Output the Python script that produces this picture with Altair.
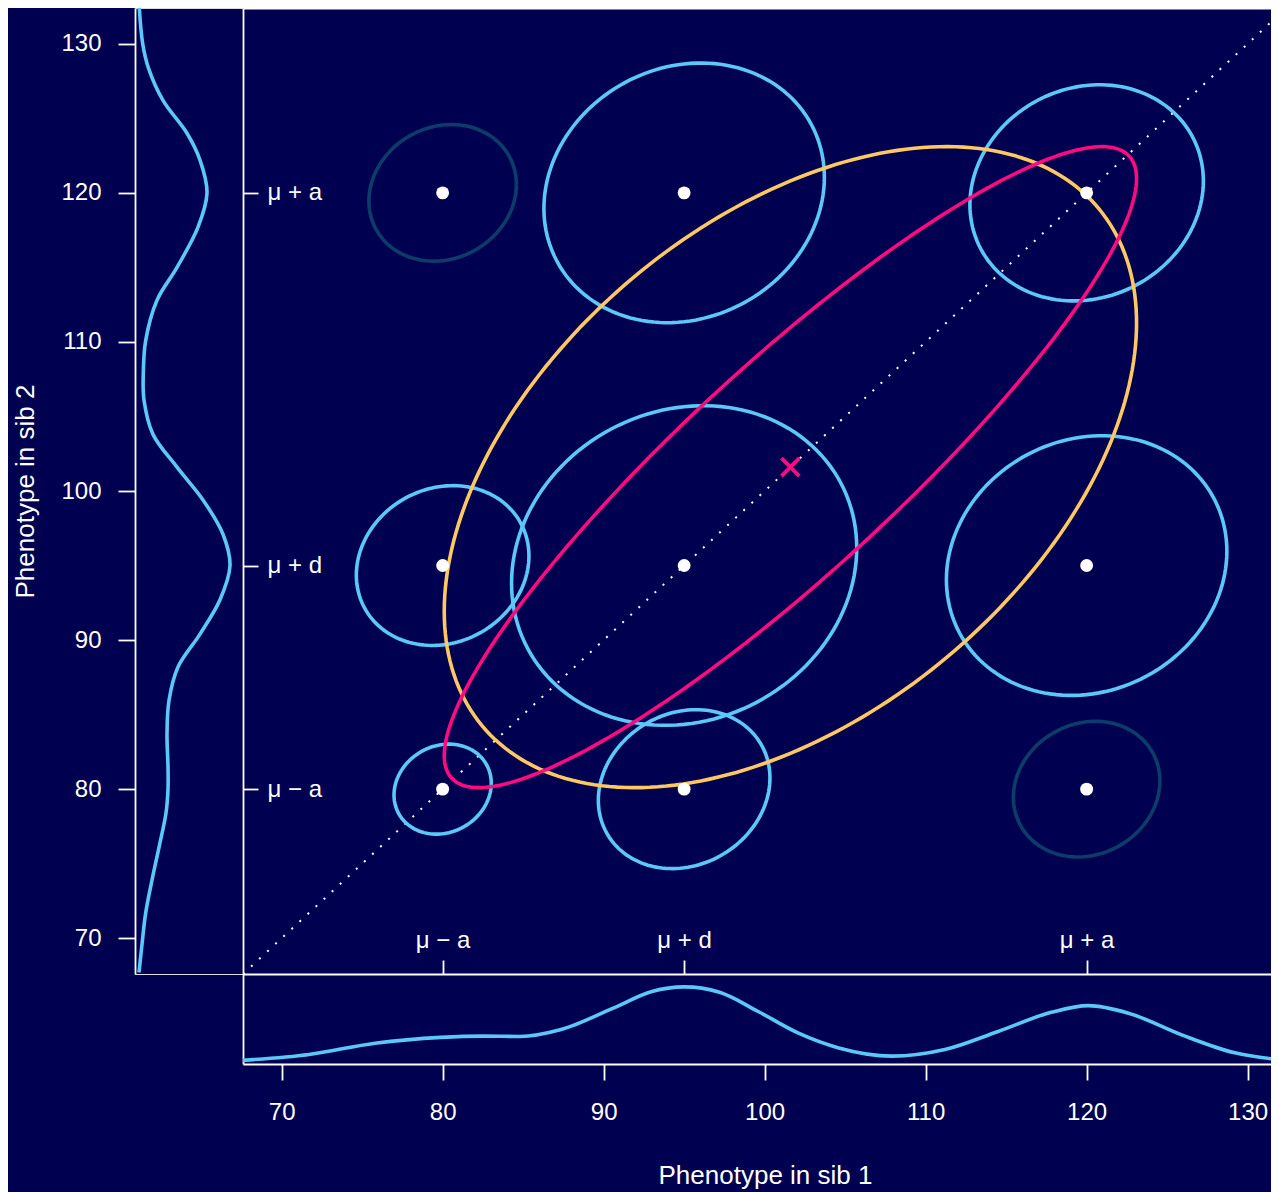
import numpy as np
import pandas as pd
import altair as alt

# ---------------- data ----------------
geno_values = [80, 95, 120]
geno_labels = ["μ − a", "μ + d", "μ + a"]
axis_ticks = [70, 80, 90, 100, 110, 120, 130]

# genotype-pair clouds: sib1 mean, sib2 mean, half-size, correlation, tone
pair_sib1 = [80, 80, 80, 95, 95, 95, 120, 120, 120]
pair_sib2 = [80, 95, 120, 80, 95, 120, 80, 95, 120]
pair_halfsize = [3.02, 5.36, 4.58, 5.33, 10.72, 8.71, 4.55, 8.71, 7.25]
pair_rho = [0.13, 0.12, 0.12, 0.14, 0.11, 0.12, 0.12, 0.11, 0.11]
pair_tone = ["light", "light", "dark", "light", "light", "light", "dark", "light", "light"]

# overall sib-pair distribution
overall_mean = [101.6, 101.6]
overall_halfsize = 21.5
overall_rho = [0.45, 0.90]
overall_tone = ["orange", "magenta"]

# marginal density of sib 1 (bottom panel), relative units
sib1_grid = [67.6, 71.7, 75.8, 79.9, 82.5, 84.8, 87.3, 90.6, 93.0, 95.0, 97.2, 99.6,
             102.1, 104.6, 107.9, 111.2, 114.5, 117.8, 120.1, 122.6, 125.9, 129.2, 132.0]
sib1_density = [0.004, 0.075, 0.21, 0.28, 0.295, 0.29, 0.37, 0.63, 0.83, 0.885, 0.82, 0.59,
                0.33, 0.153, 0.055, 0.134, 0.35, 0.58, 0.66, 0.57, 0.31, 0.094, 0.01]

# marginal density of sib 2 (left panel), relative units
sib2_grid = [67.7, 69.4, 71.7, 73.9, 76.1, 78.4, 80.0, 81.5, 83.7, 85.95, 88.2, 90.4, 92.7,
             95.0, 97.1, 99.4, 101.6, 103.8, 106.1, 107.9, 110.1, 112.8, 115.0, 117.7, 120.0,
             122.2, 124.0, 126.2, 128.4, 130.0, 132.4]
sib2_density = [0.0, 0.027, 0.067, 0.13, 0.20, 0.27, 0.29, 0.29, 0.28, 0.30, 0.39, 0.61, 0.81,
                0.91, 0.84, 0.64, 0.38, 0.14, 0.05, 0.043, 0.067, 0.18, 0.38, 0.59, 0.68,
                0.61, 0.48, 0.24, 0.093, 0.037, 0.003]

diag_ends = [67.6, 132.4]

# ---------------- style ----------------
BG = "#000050"
LIGHT = "#5BC8F7"
DARK = "#0C3D6A"
ORANGE = "#FFC862"
MAGENTA = "#FF0A80"
WHITE = "#FFFFFF"
FONT = "Liberation Sans"
LW = 1.8
CW = 3.6

MAIN_W, MAIN_H = 1028, 966
LEFT_W, BOTTOM_H = 108, 90
X_DOMAIN = [67.6, 67.6 + MAIN_W / 16.1]
Y_DOMAIN = [67.6, 132.4]
D_DOMAIN = [-0.04, 1.04]


def contour(cx, cy, h, rho, n=145):
    t = np.linspace(0, 2 * np.pi, n)
    xs = cx + h * np.cos(t)
    ys = cy + h * (rho * np.cos(t) + np.sqrt(1 - rho ** 2) * np.sin(t))
    return xs, ys


rows = []
for i in range(len(pair_sib1)):
    xs, ys = contour(pair_sib1[i], pair_sib2[i], pair_halfsize[i], pair_rho[i])
    for k, (a, b) in enumerate(zip(xs, ys)):
        rows.append({"id": f"p{i}", "step": k, "x": a, "y": b, "tone": pair_tone[i]})
pair_df = pd.DataFrame(rows)

big = []
for j in range(len(overall_rho)):
    xs, ys = contour(overall_mean[0], overall_mean[1], overall_halfsize, overall_rho[j], n=241)
    for k, (a, b) in enumerate(zip(xs, ys)):
        big.append({"id": f"o{j}", "step": k, "x": a, "y": b, "tone": overall_tone[j]})
big_df = pd.DataFrame(big)

points_df = pd.DataFrame({"x": pair_sib1, "y": pair_sib2})
cross_df = pd.DataFrame({"x": [overall_mean[0]], "y": [overall_mean[1]]})
diag_df = pd.DataFrame({"x": diag_ends, "y": diag_ends})
bottom_df = pd.DataFrame({"val": sib1_grid, "dens": sib1_density})
left_df = pd.DataFrame({"val": sib2_grid, "dens": sib2_density})

# ---------------- axes ----------------
label_expr = " : ".join(
    f"datum.value == {v} ? '{l}'" for v, l in zip(geno_values[:-1], geno_labels[:-1])
) + f" : '{geno_labels[-1]}'"

common_axis = dict(
    domainColor=WHITE, domainWidth=LW, tickColor=WHITE, tickWidth=LW,
    labelColor=WHITE, labelFont=FONT, grid=False,
)

mu_x_axis = alt.Axis(orient="top", offset=-MAIN_H, values=geno_values, labelExpr=label_expr,
                     tickSize=14, labelPadding=8, labelFontSize=24, title=None, **common_axis)
mu_y_axis = alt.Axis(orient="right", offset=-MAIN_W, values=geno_values, labelExpr=label_expr,
                     tickSize=15, labelPadding=9, labelFontSize=24, labelAlign="left",
                     title=None, **common_axis)

xs_main = alt.Scale(domain=X_DOMAIN, nice=False, zero=False)
ys_main = alt.Scale(domain=Y_DOMAIN, nice=False, zero=False)


def X(field="x"):
    return alt.X(f"{field}:Q", scale=xs_main, axis=mu_x_axis)


def Y(field="y"):
    return alt.Y(f"{field}:Q", scale=ys_main, axis=mu_y_axis)


tone_scale = alt.Scale(domain=["light", "dark", "orange", "magenta"],
                       range=[LIGHT, DARK, ORANGE, MAGENTA])

diag = alt.Chart(diag_df).mark_line(
    color=WHITE, strokeWidth=2, strokeDash=[2, 9], clip=True
).encode(x=X(), y=Y())

pair_lines = alt.Chart(pair_df).mark_line(strokeWidth=CW, clip=True).encode(
    x=X(), y=Y(), detail="id:N", order="step:Q",
    color=alt.Color("tone:N", scale=tone_scale, legend=None),
)

orange_line = alt.Chart(big_df[big_df["tone"] == "orange"]).mark_line(
    strokeWidth=CW, clip=True).encode(
    x=X(), y=Y(), detail="id:N", order="step:Q",
    color=alt.Color("tone:N", scale=tone_scale, legend=None),
)
magenta_line = alt.Chart(big_df[big_df["tone"] == "magenta"]).mark_line(
    strokeWidth=CW, clip=True).encode(
    x=X(), y=Y(), detail="id:N", order="step:Q",
    color=alt.Color("tone:N", scale=tone_scale, legend=None),
)

pts = alt.Chart(points_df).mark_circle(color=WHITE, opacity=1, size=165).encode(x=X(), y=Y())

cross = alt.Chart(cross_df).mark_point(
    shape="M-1,-1L1,1M-1,1L1,-1", filled=False, color=MAGENTA, strokeWidth=3.8,
    size=320, opacity=1,
).encode(x=X(), y=Y())

inner = alt.layer(diag, pair_lines, orange_line, magenta_line, pts, cross)

border = alt.Chart(cross_df).mark_point(opacity=0).encode(
    x=alt.X("x:Q", scale=xs_main,
            axis=alt.Axis(orient="top", ticks=False, labels=False, domain=True,
                          domainColor=WHITE, domainWidth=LW, grid=False, title=None)),
    y=Y(),
)

main = alt.layer(inner, border).resolve_scale(x="independent").properties(
    width=MAIN_W, height=MAIN_H, view=alt.ViewBackground(strokeOpacity=0)
)

left = alt.Chart(left_df).mark_line(
    color=LIGHT, strokeWidth=CW, interpolate="catmull-rom"
).encode(
    x=alt.X("dens:Q", scale=alt.Scale(domain=D_DOMAIN, nice=False, zero=False), axis=None),
    y=alt.Y("val:Q", scale=ys_main,
            axis=alt.Axis(orient="left", values=axis_ticks, tickSize=17, labelPadding=17,
                          labelFontSize=24, title="Phenotype in sib 2", titleFont=FONT,
                          titleFontSize=26, titleFontWeight="normal", titleColor=WHITE,
                          titlePadding=22, **common_axis)),
    order="val:Q",
).properties(width=LEFT_W, height=MAIN_H)

blank = alt.Chart(cross_df).mark_point(opacity=0).encode(
    x=alt.X("x:Q", axis=None), y=alt.Y("y:Q", axis=None)
).properties(width=LEFT_W, height=BOTTOM_H, view=alt.ViewBackground(strokeOpacity=0))

bottom = alt.Chart(bottom_df).mark_line(
    color=LIGHT, strokeWidth=CW, interpolate="monotone", clip=True
).encode(
    x=alt.X("val:Q", scale=xs_main,
            axis=alt.Axis(orient="bottom", values=axis_ticks, tickSize=16, labelPadding=20,
                          labelFontSize=24, title="Phenotype in sib 1", titleFont=FONT,
                          titleFontSize=26, titleFontWeight="normal", titleColor=WHITE,
                          titlePadding=38, titleX=522, **common_axis)),
    y=alt.Y("dens:Q", scale=alt.Scale(domain=D_DOMAIN, nice=False, zero=False),
            axis=alt.Axis(orient="left", ticks=False, labels=False, domain=True,
                          domainColor=WHITE, domainWidth=LW, grid=False, title=None)),
).properties(width=MAIN_W, height=BOTTOM_H, view=alt.ViewBackground(strokeOpacity=0))

chart = alt.concat(
    left, main, blank, bottom, columns=2, spacing=0, bounds="flush", align="each"
).resolve_scale(x="independent", y="independent").properties(
    background=BG, padding={"left": 4, "top": -8, "right": 0, "bottom": 10}
).configure_view(stroke=WHITE, strokeWidth=LW).configure(font=FONT)

chart.save("out.html", embed_options={"renderer": "svg", "actions": False})
